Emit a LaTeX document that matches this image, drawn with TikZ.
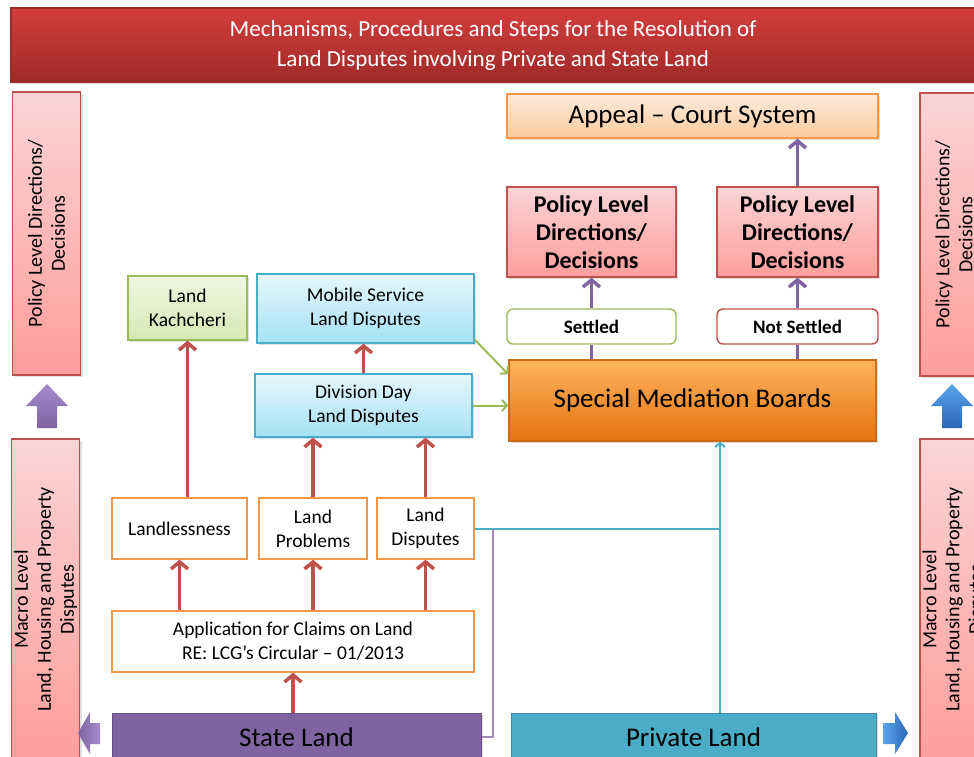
\documentclass[tikz,border=0pt]{standalone}
\usepackage{fontspec}
\setmainfont{Carlito}
\usetikzlibrary{arrows.meta,shadows}
\definecolor{titletop}{HTML}{D33E3C}
\definecolor{titlebot}{HTML}{9E2A28}
\definecolor{pinktop}{HTML}{FAD4D4}
\definecolor{pinkbot}{HTML}{FF9D9D}
\definecolor{redline}{HTML}{C0504D}
\definecolor{peachtop}{HTML}{FDEADB}
\definecolor{peachbot}{HTML}{FBCB9E}
\definecolor{orline}{HTML}{F79646}
\definecolor{smbtop}{HTML}{FDB35E}
\definecolor{smbbot}{HTML}{E5730F}
\definecolor{smbline}{HTML}{D06A10}
\definecolor{greentop}{HTML}{F0F6E2}
\definecolor{greenbot}{HTML}{D6E8B3}
\definecolor{greenline}{HTML}{9BBB59}
\definecolor{bluetop}{HTML}{E6F7FD}
\definecolor{bluebot}{HTML}{A6E1F5}
\definecolor{blueline}{HTML}{4BACC6}
\definecolor{purp}{HTML}{8064A2}
\definecolor{purplite}{HTML}{A48BCB}
\definecolor{arrblue}{HTML}{5AA5EC}
\definecolor{arrbluedk}{HTML}{2A66B8}
\newcommand{\boxtxt}{\fontsize{19.5}{24}\selectfont}
\newcommand{\poltxt}{\fontsize{24}{28}\selectfont\bfseries}
\newcommand{\bigtxt}{\fontsize{27}{30}\selectfont}
\newcommand{\sidetxt}{\fontsize{20}{23}\selectfont}

\begin{document}
\begin{tikzpicture}[x=1pt,y=-1pt,
    box/.style={draw,line width=1.4pt,inner sep=0pt,align=center},
    softshadow/.style={drop shadow={shadow xshift=2pt,shadow yshift=-2pt,opacity=0.25}},
    titlebox/.style={box,draw=titlebot,top color=titletop,bottom color=titlebot,softshadow,text=white},
    sidebox/.style={box,draw=redline,top color=pinktop,bottom color=pinkbot,rotate=90,softshadow,font=\sidetxt},
    pinkbox/.style={box,draw=redline,top color=pinktop,bottom color=pinkbot,softshadow,font=\poltxt},
    peachbox/.style={box,draw=orline,top color=peachtop,bottom color=peachbot,softshadow,font=\bigtxt},
    smbbox/.style={box,draw=smbline,top color=smbtop,bottom color=smbbot,softshadow,font=\bigtxt},
    greenbox/.style={box,draw=greenline,top color=greentop,bottom color=greenbot,softshadow,font=\boxtxt},
    bluebox/.style={box,draw=blueline,top color=bluetop,bottom color=bluebot,softshadow,font=\boxtxt},
    whitebox/.style={box,draw=orline,fill=white,font=\boxtxt},
    outcome/.style={box,fill=white,rounded corners=6pt,font=\fontsize{19}{22}\selectfont\bfseries},
    landbox/.style={box,line width=1pt,softshadow,font=\bigtxt},
    redarr/.style={draw=redline,line width=3.5pt,-{Straight Barb[length=7pt,width=17pt]}},
    purparr/.style={draw=purp,line width=3.5pt,-{Straight Barb[length=7pt,width=17pt]}},
    purpbar/.style={draw=purp,line width=3.5pt},
    greenarr/.style={draw=greenline,line width=2pt,-{Straight Barb[length=5pt,width=11pt]}},
    cyanarr/.style={draw=blueline,line width=2pt,-{Straight Barb[length=4pt,width=10pt]}},
    cyanline/.style={draw=blueline,line width=2pt},
    purpline/.style={draw=purp!75,line width=2pt}]
  \clip (0,0) rectangle (974,757);
  \fill[white] (0,0) rectangle (974,757);

  % banner
  \node[titlebox,minimum width=964pt,minimum height=74pt,font=\fontsize{23}{30}\selectfont] (title) at (493,45)
    {Mechanisms, Procedures and Steps for the Resolution of\\
     Land Disputes involving Private and State Land};

  % side columns
  \node[sidebox,minimum width=283pt,minimum height=68pt] (polL) at (46.5,233.5)
    {Policy Level Directions/\\Decisions};
  \node[sidebox,minimum width=321pt,minimum height=68pt] (macroL) at (45.5,599.5)
    {Macro Level\\Land, Housing and Property\\Disputes};
  \node[sidebox,minimum width=283pt,minimum height=68pt] (polR) at (954,234.5)
    {Policy Level Directions/\\Decisions};
  \node[sidebox,minimum width=321pt,minimum height=68pt] (macroR) at (954,599.5)
    {Macro Level\\Land, Housing and Property\\Disputes};

  % block arrows
  \shade[top color=purplite,bottom color=purp] (47,384) -- (68,406) -- (57,406) -- (57,428)
    -- (37,428) -- (37,406) -- (26,406) -- cycle;
  \shade[top color=arrblue,bottom color=arrbluedk] (952,384) -- (973,406) -- (962,406) -- (962,428)
    -- (942,428) -- (942,406) -- (931,406) -- cycle;
  \shade[left color=purp,right color=purplite] (78,733) -- (90,712) -- (90,723) -- (100,723)
    -- (100,744) -- (90,744) -- (90,754) -- cycle;
  \shade[left color=arrblue,right color=arrbluedk] (908,733) -- (895,712) -- (895,723) -- (883,723)
    -- (883,744) -- (895,744) -- (895,754) -- cycle;

  % right part
  \node[peachbox,minimum width=371pt,minimum height=44pt] (appeal) at (692.5,116)
    {Appeal -- Court System};
  \node[pinkbox,minimum width=169pt,minimum height=90pt] (pol1) at (591.5,232)
    {Policy Level\\Directions/\\Decisions};
  \node[pinkbox,minimum width=161pt,minimum height=90pt] (pol2) at (797.5,232)
    {Policy Level\\Directions/\\Decisions};
  \node[outcome,draw=greenline,minimum width=169pt,minimum height=35pt] (set) at (591.5,326.5)
    {Settled};
  \node[outcome,draw=redline,minimum width=161pt,minimum height=35pt] (nset) at (797.5,326.5)
    {Not Settled};
  \node[smbbox,minimum width=367pt,minimum height=81pt] (smb) at (692.5,400.5)
    {Special Mediation Boards};

  % left part
  \node[greenbox,minimum width=119pt,minimum height=64pt] (kach) at (187.5,308)
    {Land\\Kachcheri};
  \node[bluebox,minimum width=217pt,minimum height=69pt] (mob) at (365.5,308.5)
    {Mobile Service\\Land Disputes};
  \node[bluebox,minimum width=217pt,minimum height=63pt] (div) at (363.5,405.5)
    {Division Day\\Land Disputes};
  \node[whitebox,minimum width=135pt,minimum height=61pt] (lless) at (179.5,528.5)
    {Landlessness};
  \node[whitebox,minimum width=108pt,minimum height=61pt] (lprob) at (313,528.5)
    {Land\\Problems};
  \node[whitebox,minimum width=97pt,minimum height=61pt] (ldisp) at (425.5,528.5)
    {Land\\Disputes};
  \node[whitebox,minimum width=362pt,minimum height=61pt] (app) at (293,641.5)
    {Application for Claims on Land\\RE: LCG's Circular -- 01/2013};

  % land types
  \node[landbox,draw=purp!80!black,fill=purp,minimum width=369pt,minimum height=48pt] (state) at (296.5,737)
    {State Land};
  \node[landbox,draw=blueline!80!black,fill=blueline,minimum width=365pt,minimum height=48pt] (priv) at (693.5,737)
    {Private Land};

  \coordinate (tee) at (720,528.5);
  \coordinate (pj) at (493,528.5);

  % connectors
  \draw[redarr] (state.north -| app.south) -- (app.south);
  \draw[redarr] (app.north -| lless.south) -- (lless.south);
  \draw[redarr] (app.north -| lprob.south) -- (lprob.south);
  \draw[redarr] (app.north -| ldisp.south) -- (ldisp.south);
  \draw[redarr] (kach.south |- lless.north) -- (kach.south);
  \draw[redarr] (lprob.north) -- (lprob.north |- div.south);
  \draw[redarr] (ldisp.north) -- (ldisp.north |- div.south);
  \draw[redarr] (div.north) -- (div.north |- mob.south);
  \draw[greenarr] ([yshift=4pt]mob.south east) -- ([yshift=-15pt]smb.north west);
  \draw[greenarr] (div.east) -- (div.east -| smb.west);
  \draw[purpbar] (smb.north -| set.south) -- (set.south);
  \draw[purparr] (set.north) -- (pol1.south);
  \draw[purpbar] (smb.north -| nset.south) -- (nset.south);
  \draw[purparr] (nset.north) -- (pol2.south);
  \draw[purparr] (pol2.north) -- (pol2.north |- appeal.south);
  \draw[cyanline] (ldisp.east) -- (tee);
  \draw[cyanarr] (priv.north -| tee) -- (smb.south -| tee);
  \draw[purpline] (state.east) -| (pj);
\end{tikzpicture}
\end{document}
